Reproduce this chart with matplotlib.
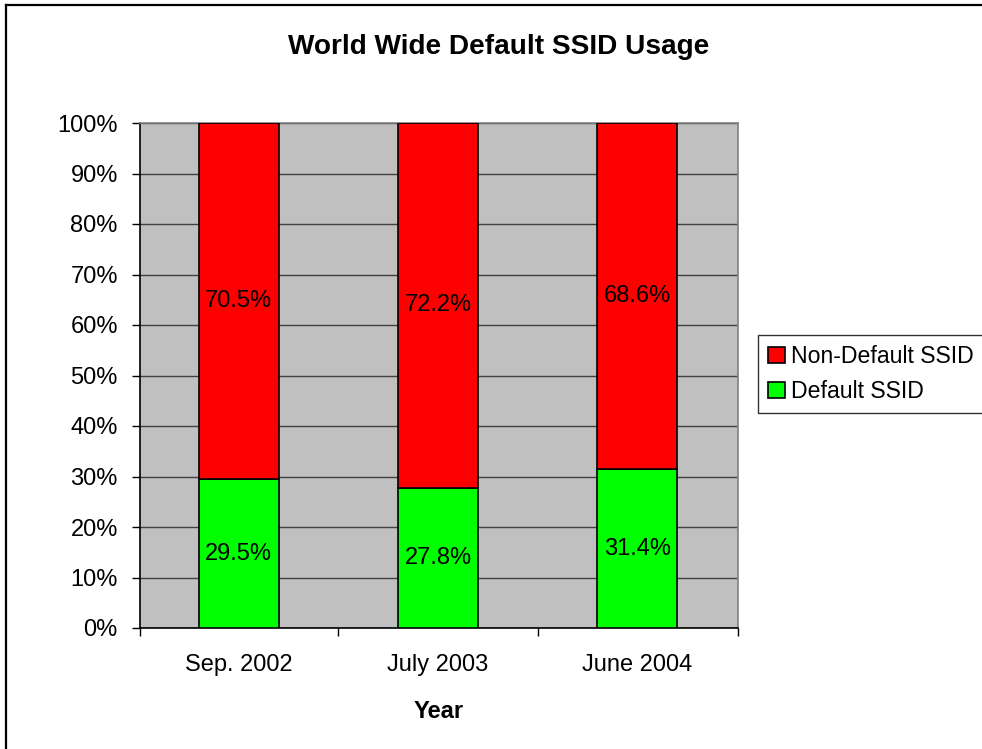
import matplotlib.pyplot as plt
from matplotlib.lines import Line2D
from matplotlib.ticker import FuncFormatter

plt.rcParams['font.family'] = ['Liberation Sans', 'DejaVu Sans']

years = ['Sep. 2002', 'July 2003', 'June 2004']
default_ssid = [29.5, 27.8, 31.4]
non_default_ssid = [70.5, 72.2, 68.6]

fig = plt.figure(figsize=(9.82, 7.49), dpi=100)
ax = fig.add_axes([140 / 982, 1 - 628 / 749, 598 / 982, 505 / 749])
ax.set_facecolor('#c0c0c0')

x = range(len(years))
b1 = ax.bar(x, default_ssid, width=0.4, color='#00ff00', edgecolor='black',
            linewidth=1.2, label='Default SSID', zorder=3)
b2 = ax.bar(x, non_default_ssid, width=0.4, bottom=default_ssid, color='#ff0000',
            edgecolor='black', linewidth=1.2, label='Non-Default SSID', zorder=3)

# value labels in the middle of each segment
for i in x:
    ax.text(i, default_ssid[i] / 2, f'{default_ssid[i]:.1f}%', ha='center',
            va='center', fontsize=17, zorder=4)
    ax.text(i, default_ssid[i] + non_default_ssid[i] / 2, f'{non_default_ssid[i]:.1f}%',
            ha='center', va='center', fontsize=17, zorder=4)

ax.set_xlim(-0.495, 2.505)
ax.set_ylim(0, 100)
ax.set_yticks(range(0, 101, 10))
ax.yaxis.set_major_formatter(FuncFormatter(lambda v, p: f'{v:.0f}%'))
ax.grid(axis='y', color='#404040', linewidth=1.0, zorder=1)

ax.set_xticks(list(x))
ax.set_xticklabels(years)
ax.set_xticks([-0.495, 0.5, 1.5, 2.505], minor=True)
ax.tick_params(axis='x', which='major', length=0, pad=19, labelsize=17)
ax.tick_params(axis='x', which='minor', length=6, width=1, direction='out')
ax.tick_params(axis='y', length=6, width=1, direction='out', pad=10, labelsize=17)

for side in ['top', 'right']:
    ax.spines[side].set_color('#808080')
    ax.spines[side].set_linewidth(1.2)
for side in ['left', 'bottom']:
    ax.spines[side].set_color('black')
    ax.spines[side].set_linewidth(1.2)

ax.set_xlabel('Year', fontsize=17, fontweight='bold', labelpad=17)

fig.text(0.508, 1 - 47 / 749, 'World Wide Default SSID Usage', ha='center',
         va='center', fontsize=20.2, fontweight='bold')

leg = fig.legend(handles=[b2, b1], loc='upper left',
                 bbox_to_anchor=(758 / 982, 1 - 335 / 749),
                 fontsize=16.6, frameon=True, fancybox=False, shadow=False,
                 handlelength=0.7, handleheight=0.7, handletextpad=0.3,
                 borderpad=0.45, labelspacing=0.5, borderaxespad=0)
leg.get_frame().set_edgecolor('black')
leg.get_frame().set_linewidth(1.0)

# outer chart border (left and top edges)
fig.add_artist(Line2D([6 / 982, 6 / 982], [0, 1 - 5 / 749], color='black', linewidth=1.6))
fig.add_artist(Line2D([6 / 982, 1], [1 - 5 / 749, 1 - 5 / 749], color='black', linewidth=1.6))

fig.savefig('out.png', dpi=100)
